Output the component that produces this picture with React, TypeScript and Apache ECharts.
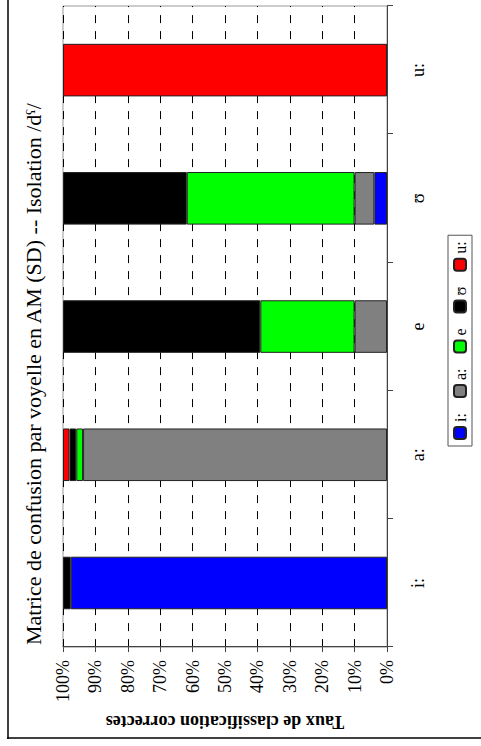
import React, { useEffect, useRef } from "react";
import * as echarts from "echarts";

const categories = ["i:", "a:", "e", "ʊ", "u:"];
const seriesNames = ["i:", "a:", "e", "ʊ", "u:"];
const seriesColors = ["#0000ff", "#808080", "#00ff00", "#000000", "#ff0000"];
// percentage of each vowel (category) classified as each series
const valuesI = [97.6, null, null, 3.9, null];
const valuesA = [null, 93.8, 10.0, 6.1, null];
const valuesE = [null, 2.1, 29.1, 51.8, null];
const valuesU = [2.4, 2.1, 60.9, 38.2, null];
const valuesUu = [null, 2.0, null, null, 100];
const seriesValues = [valuesI, valuesA, valuesE, valuesU, valuesUu];
const valueTicks = { min: 0, max: 100, interval: 10 };

const titleText = "Matrice de confusion par voyelle en AM (SD) -- Isolation /dˤ/";
const yName = "Taux de classification correctes";

const W = 760;
const H = 480;
const FONT = "'Liberation Serif', 'Times New Roman', serif";

export default function App() {
  const ref = useRef<HTMLDivElement>(null);
  useEffect(() => {
    if (!ref.current) return;
    const chart = echarts.init(ref.current, null, { renderer: "svg" });
    chart.setOption({
      animation: false,
      backgroundColor: "#fff",
      title: {
        text: titleText,
        left: 89,
        top: 10,
        textStyle: { fontFamily: FONT, fontSize: 22, fontWeight: "normal", color: "#000" },
      },
      legend: {
        data: seriesNames,
        left: 293,
        top: 441,
        orient: "horizontal",
        itemWidth: 12,
        itemHeight: 12,
        itemGap: 15,
        padding: [4, 6],
        borderColor: "#555",
        borderWidth: 1,
        textStyle: { fontFamily: FONT, fontSize: 16, color: "#000" },
      },
      grid: {
        left: 82,
        top: 56,
        width: 651,
        height: 324,
        show: true,
        borderColor: "#999",
        borderWidth: 1,
        backgroundColor: "transparent",
      },
      xAxis: {
        type: "category",
        data: categories,
        axisLine: { lineStyle: { color: "#444", width: 1 } },
        axisTick: { show: true, length: 6, alignWithLabel: false, lineStyle: { color: "#444" } },
        axisLabel: { margin: 22, fontFamily: FONT, fontSize: 18, color: "#000" },
      },
      yAxis: {
        type: "value",
        min: valueTicks.min,
        max: valueTicks.max,
        interval: valueTicks.interval,
        name: yName,
        nameLocation: "middle",
        nameGap: 55,
        nameRotate: 90,
        nameTextStyle: { fontFamily: FONT, fontSize: 18, fontWeight: "bold", color: "#000" },
        axisLine: { show: true, lineStyle: { color: "#444", width: 1 } },
        axisTick: { show: true, length: 5, lineStyle: { color: "#444" } },
        axisLabel: { margin: 13, fontFamily: FONT, fontSize: 18, color: "#000", formatter: "{value}%" },
        splitLine: { show: true, lineStyle: { color: "#000", type: [8, 8], width: 1 } },
      },
      series: seriesNames.map((name, i) => ({
        name,
        type: "bar",
        stack: "total",
        barWidth: "41%",
        data: seriesValues[i],
        itemStyle: { color: seriesColors[i], borderColor: "#222", borderWidth: 1 },
      })),
      graphic: [
        {
          type: "line",
          shape: { x1: 0, y1: 1, x2: W, y2: 1 },
          style: { stroke: "#000", lineWidth: 1.5 },
          silent: true,
        },
        {
          type: "line",
          shape: { x1: 1, y1: 0, x2: 1, y2: H },
          style: { stroke: "#000", lineWidth: 1.5 },
          silent: true,
        },
      ],
    });
    return () => chart.dispose();
  }, []);
  return (
    <div
      style={{
        position: "fixed",
        left: 0,
        top: 0,
        width: 481,
        height: 746,
        overflow: "hidden",
        background: "#fff",
      }}
    >
      <div
        ref={ref}
        style={{
          position: "absolute",
          left: 7,
          top: 739,
          width: W,
          height: H,
          transform: "rotate(-90deg)",
          transformOrigin: "0 0",
        }}
      />
    </div>
  );
}
